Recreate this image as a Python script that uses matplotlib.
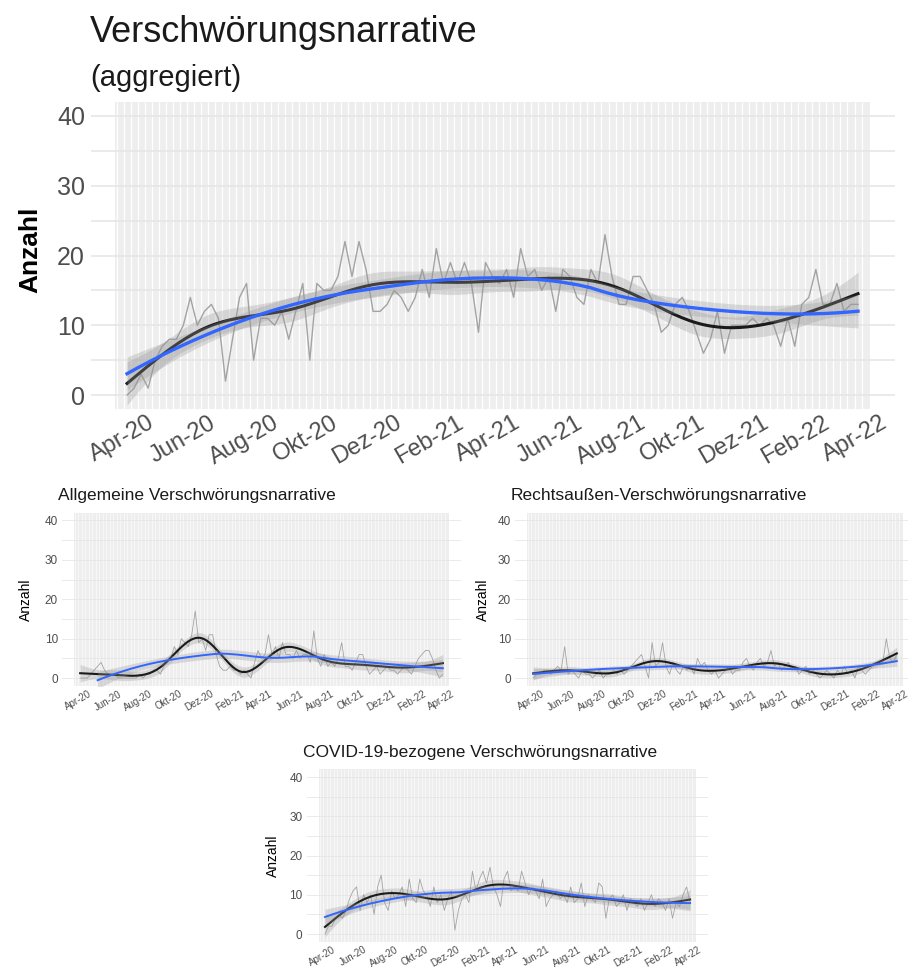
import numpy as np
import pandas as pd
import matplotlib
matplotlib.use("Agg")
import matplotlib.pyplot as plt
import matplotlib.dates as mdates

plt.rcParams['font.family'] = ['Liberation Sans', 'DejaVu Sans']

# wöchentliche Werte, Apr 2020 - Apr 2022
wochen = pd.date_range('2020-04-06', periods=105, freq='7D')

aggregiert = [0, 1, 3, 1, 5, 7, 8, 8, 10, 14,
              10, 12, 13, 11, 2, 8, 14, 16, 5, 11,
              11, 10, 12, 8, 12, 16, 5, 16, 15, 15,
              17, 22, 17, 22, 18, 12, 12, 13, 15, 14,
              12, 14, 18, 14, 21, 16, 19, 16, 19, 16,
              9, 19, 17, 16, 18, 14, 21, 17, 18, 15,
              17, 12, 18, 17, 14, 13, 18, 16, 23, 17,
              13, 13, 17, 17, 15, 13, 9, 10, 13, 14,
              12, 9, 6, 8, 12, 6, 10, 10, 10, 11,
              10, 11, 10, 7, 11, 7, 13, 14, 18, 13,
              13, 16, 12, 13, 13]

allgemein = [0, 0, 0, 1, 2, 3, 4, 2, 1, 1,
             1, 0, 0, 0, 0, 0, 0, 1, 0, 1,
             1, 2, 2, 1, 3, 4, 5, 8, 6, 10,
             9, 8, 11, 17, 9, 10, 7, 11, 11, 6,
             3, 2, 2, 3, 2, 2, 1, 2, 1, 0,
             4, 7, 5, 6, 11, 6, 8, 5, 9, 6,
             6, 5, 7, 5, 6, 6, 4, 12, 5, 3,
             6, 3, 4, 3, 5, 9, 3, 3, 2, 4,
             6, 6, 3, 1, 2, 3, 1, 2, 3, 2,
             2, 1, 2, 3, 2, 1, 3, 5, 6, 7,
             7, 5, 2, 0, 1]

rechts = [0, 1, 1, 2, 2, 1, 2, 3, 2, 8,
          1, 2, 1, 0, 2, 1, 1, 0, 1, 2,
          0, 1, 1, 2, 1, 2, 1, 2, 3, 4,
          5, 6, 3, 0, 9, 3, 4, 9, 3, 1,
          4, 2, 1, 3, 2, 3, 1, 5, 3, 4,
          2, 1, 2, 0, 1, 2, 3, 1, 2, 2,
          4, 5, 3, 2, 4, 5, 3, 4, 7, 3,
          4, 2, 3, 4, 2, 3, 1, 2, 3, 1,
          2, 1, 0, 1, 2, 1, 0, 2, 1, 3,
          1, 2, 0, 3, 2, 1, 2, 3, 4, 4,
          4, 10, 5, 4, 6]

covid = [0, 2, 2, 4, 5, 4, 6, 9, 11, 12,
         6, 10, 8, 10, 5, 12, 15, 8, 6, 11,
         9, 10, 12, 7, 14, 9, 8, 14, 11, 10,
         7, 12, 8, 10, 6, 9, 11, 1, 6, 9,
         10, 8, 16, 11, 14, 16, 13, 17, 12, 10,
         7, 14, 16, 11, 12, 11, 16, 13, 10, 12,
         11, 9, 14, 7, 9, 10, 11, 9, 10, 8,
         12, 8, 9, 13, 7, 10, 9, 8, 13, 12,
         4, 9, 10, 7, 8, 10, 6, 9, 8, 7,
         9, 6, 8, 10, 7, 9, 8, 6, 9, 4,
         8, 7, 10, 12, 8]

tick_daten = pd.date_range('2020-04-01', '2022-04-01', freq='2MS')
tick_labels = ['Apr-20', 'Jun-20', 'Aug-20', 'Okt-20', 'Dez-20', 'Feb-21', 'Apr-21',
               'Jun-21', 'Aug-21', 'Okt-21', 'Dez-21', 'Feb-22', 'Apr-22']

BLAU = '#3366FF'
GRAU_TEXT = '#4D4D4D'


def loess(k, y, span, kn):
    # lokale quadratische Regression mit Tricube-Gewichten (wie R loess)
    n = len(k)
    q = int(np.floor(n * span))

    def operator(punkte):
        L = np.zeros((len(punkte), n))
        for i, p in enumerate(punkte):
            d = np.abs(k - p)
            h = np.sort(d)[q - 1]
            w = np.clip(1 - (d / h) ** 3, 0, None) ** 3
            X = np.column_stack([np.ones(n), k - p, (k - p) ** 2])
            XtW = X.T * w
            L[i] = np.linalg.solve(XtW @ X, XtW)[0]
        return L

    R = np.eye(n) - operator(k)
    s2 = np.sum((R @ y) ** 2) / np.trace(R.T @ R)
    Lg = operator(kn)
    return Lg @ y, np.sqrt(s2 * np.sum(Lg ** 2, axis=1))


def cr_basis(x, knoten):
    # natürliche kubische Regressionsspline (Werte an den Knoten als Koeffizienten)
    K = len(knoten)
    h = np.diff(knoten)
    D = np.zeros((K - 2, K))
    Bt = np.zeros((K - 2, K - 2))
    for i in range(K - 2):
        D[i, i] = 1 / h[i]
        D[i, i + 1] = -1 / h[i] - 1 / h[i + 1]
        D[i, i + 2] = 1 / h[i + 1]
        Bt[i, i] = (h[i] + h[i + 1]) / 3
        if i < K - 3:
            Bt[i, i + 1] = Bt[i + 1, i] = h[i + 1] / 6
    F = np.zeros((K, K))
    F[1:-1] = np.linalg.solve(Bt, D)
    S = D.T @ F[1:-1]
    j = np.clip(np.searchsorted(knoten, x, side='right') - 1, 0, K - 2)
    a = (knoten[j + 1] - x) / h[j]
    b = (x - knoten[j]) / h[j]
    idx = np.arange(len(x))
    X = np.zeros((len(x), K))
    X[idx, j] += a
    X[idx, j + 1] += b
    X += ((a ** 3 - a) * h[j] ** 2 / 6)[:, None] * F[j]
    X += ((b ** 3 - b) * h[j] ** 2 / 6)[:, None] * F[j + 1]
    return X, S


def gam(k, y, kn, nk=10):
    # Glättungsparameter per GCV
    knoten = np.linspace(k[0], k[-1], nk)
    B, S = cr_basis(k, knoten)
    Bn, _ = cr_basis(kn, knoten)
    n = len(y)
    best = None
    for lam in np.logspace(-2, 7, 181):
        A = np.linalg.inv(B.T @ B + lam * S)
        H = B @ A @ B.T
        r = y - H @ y
        edf = np.trace(H)
        gcv = n * (r @ r) / (n - edf) ** 2
        if best is None or gcv < best[0]:
            best = (gcv, A, (r @ r) / (n - edf))
    _, A, s2 = best
    beta = A @ B.T @ y
    se = np.sqrt(s2 * np.einsum('ij,jk,ik->i', Bn, A, Bn))
    return Bn @ beta, se


def zeichne(ax, werte, titel, gross=False, blau_ab=0):
    y = np.asarray(werte, dtype=float)
    k = np.arange(len(y), dtype=float)
    x = mdates.date2num(wochen)
    spanne = x[-1] - x[0]

    # Hintergrund
    ax.axvspan(x[0] - 12, x[-1] + 12, color='#EEEEEE', lw=0, zorder=0)
    ax.vlines(x[0] - 3.5 + 7 * np.arange(-1, len(y) + 1), -2, 42,
              color='white', lw=0.9 if gross else 0.4, zorder=0.5)
    for v in range(0, 45, 5):
        ax.axhline(v, color='#E6E6E6', lw=1.2 if gross else 0.6, zorder=0.6)

    ax.plot(x, y, color='#A3A3A3', lw=1.0 if gross else 0.6, zorder=2)

    kn = np.linspace(0, k[-1], 200)
    fit, se = gam(k, y, kn)
    xn = x[0] + 7 * kn
    ax.fill_between(xn, fit - 1.97 * se, fit + 1.97 * se, color='#999999', alpha=0.3, lw=0, zorder=3)
    ax.plot(xn, fit, color='#1A1A1A', lw=2.2 if gross else 1.5, zorder=4)

    kb = k[blau_ab:]
    knb = np.linspace(kb[0], kb[-1], 200)
    fitb, seb = loess(kb, y[blau_ab:], 0.75, knb)
    xnb = x[0] + 7 * knb
    ax.fill_between(xnb, fitb - 1.97 * seb, fitb + 1.97 * seb, color='#999999', alpha=0.3, lw=0, zorder=5)
    ax.plot(xnb, fitb, color=BLAU, lw=2.4 if gross else 1.4, zorder=6)

    ax.set_xlim(x[0] - 0.05 * spanne, x[-1] + 0.05 * spanne)
    ax.set_ylim(-2, 42)
    ax.set_yticks([0, 10, 20, 30, 40])
    ax.set_xticks(mdates.date2num(tick_daten))
    ax.set_xticklabels(tick_labels, rotation=30, ha='center')
    for s in ax.spines.values():
        s.set_visible(False)
    ax.tick_params(length=0, colors=GRAU_TEXT,
                   labelsize=17 if gross else 7, pad=2)
    ax.tick_params(axis='y', labelsize=18 if gross else 8.5, pad=4 if gross else 3)
    if gross:
        ax.set_ylabel('Anzahl', fontsize=19, fontweight='bold', color='black')
    else:
        ax.set_ylabel('Anzahl', fontsize=10, color='black')
    if titel:
        ax.set_title(titel, loc='left', fontsize=12.5, color='#1A1A1A', pad=9, x=-0.01)


fig = plt.figure(figsize=(9.08, 9.67), dpi=100)

ax_main = fig.add_axes([0.0997, 0.577, 0.8855, 0.3175])
zeichne(ax_main, aggregiert, None, gross=True)
ax_main.yaxis.set_label_coords(-0.060, 0.52)
fig.text(90 / 908, 1 - 42 / 967, 'Verschwörungsnarrative', fontsize=26, color='#1A1A1A', va='baseline')
fig.text(90 / 908, 1 - 86 / 967, '(aggregiert)', fontsize=21, color='#1A1A1A', va='baseline')

ax_a = fig.add_axes([0.0683, 0.2906, 0.4394, 0.1793])
zeichne(ax_a, allgemein, 'Allgemeine Verschwörungsnarrative', blau_ab=5)
ax_a.yaxis.set_label_coords(-0.073, 0.5)

ax_r = fig.add_axes([0.5672, 0.2906, 0.4405, 0.1793])
zeichne(ax_r, rechts, 'Rechtsaußen-Verschwörungsnarrative')
ax_r.yaxis.set_label_coords(-0.0625, 0.5)

ax_c = fig.add_axes([0.3378, 0.026, 0.4423, 0.1786])
zeichne(ax_c, covid, 'COVID-19-bezogene Verschwörungsnarrative')
ax_c.yaxis.set_label_coords(-0.066, 0.5)

fig.savefig('out.png', dpi=100)
